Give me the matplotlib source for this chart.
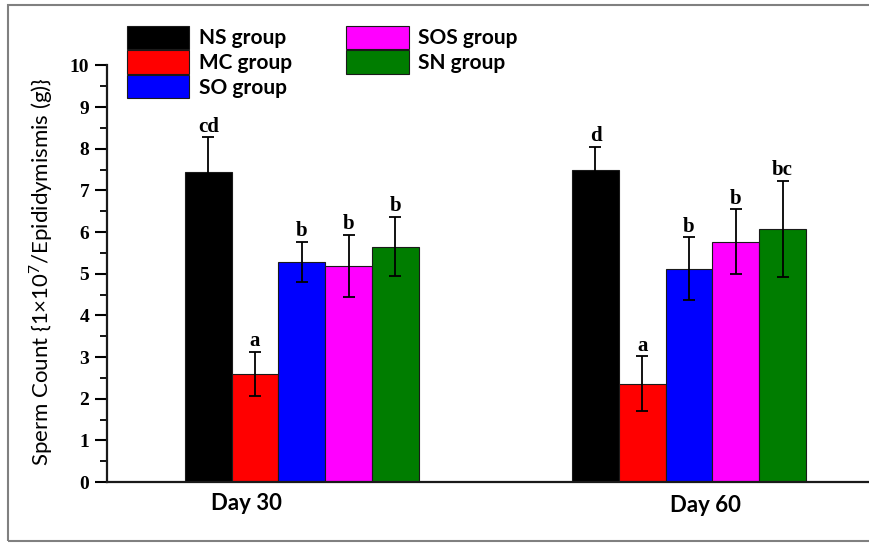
import numpy as np
import matplotlib
matplotlib.use("Agg")
import matplotlib.pyplot as plt
from matplotlib.patches import Rectangle

# ---- data ----
days = ["Day 30", "Day 60"]
groups = ["NS group", "MC group", "SO group", "SOS group", "SN group"]
ns = [7.45, 7.50]
mc = [2.60, 2.36]
so = [5.29, 5.12]
sos = [5.19, 5.77]
sn = [5.65, 6.08]
ns_err = [0.82, 0.55]
mc_err = [0.53, 0.66]
so_err = [0.48, 0.75]
sos_err = [0.75, 0.78]
sn_err = [0.71, 1.15]
ns_sig = ["cd", "d"]
mc_sig = ["a", "a"]
so_sig = ["b", "b"]
sos_sig = ["b", "b"]
sn_sig = ["b", "bc"]

values = [ns, mc, so, sos, sn]
errors = [ns_err, mc_err, so_err, sos_err, sn_err]
letters = [ns_sig, mc_sig, so_sig, sos_sig, sn_sig]
colors = ["#000000", "#ff0000", "#0000ff", "#ff00ff", "#007d00"]

plt.rcParams["mathtext.fontset"] = "custom"
plt.rcParams["mathtext.rm"] = "Lato"

fig = plt.figure(figsize=(8.7, 5.46), dpi=100)
ax = fig.add_axes([0.1233, 0.1172, 0.8767, 0.7630])

group_offset = np.array([0.0, 8.28])
width = 1.0
for i in range(len(groups)):
    x = group_offset + i
    ax.bar(x, values[i], width, color=colors[i], edgecolor="#1a1a1a",
           linewidth=0.8, label=groups[i], zorder=2)
    ax.errorbar(x, values[i], yerr=errors[i], fmt="none", ecolor="black",
                elinewidth=1.3, capsize=4.3, capthick=1.3, zorder=3)
    for j in range(len(days)):
        ax.annotate(letters[i][j], (x[j], values[i][j] + errors[i][j]),
                    xytext=(0, 4), textcoords="offset points",
                    ha="center", va="baseline", fontsize=15,
                    fontweight="bold", family="Liberation Serif")

ax.set_xlim(-2.16, 14.15)
ax.set_ylim(0, 10)
ax.set_yticks(np.arange(0, 11, 1))
ax.set_yticks(np.arange(0.5, 10, 1), minor=True)
ax.set_xticks([])
for lab in ax.get_yticklabels():
    lab.set_family("Liberation Serif")
    lab.set_fontweight("bold")
    lab.set_fontsize(14)
ax.tick_params(axis="y", which="major", direction="out", length=9, width=1.5, pad=4)
ax.tick_params(axis="y", which="minor", direction="out", length=5, width=1.3)

for s in ["top", "right"]:
    ax.spines[s].set_visible(False)
for s in ["left", "bottom"]:
    ax.spines[s].set_linewidth(1.6)
    ax.spines[s].set_color("#1a1a1a")

ax.set_ylabel("Sperm Count {1×10$^{\\mathregular{7}}$/Epididymismis (g)}",
              family="Lato", fontsize=16)
ax.yaxis.set_label_coords(-0.069, 0.505)

# day labels under the groups
day_x = [0.81, 10.63]
day_y = [-0.066, -0.073]
for d, dx, dy in zip(days, day_x, day_y):
    ax.text(dx, dy, d, transform=ax.get_xaxis_transform(), ha="center",
            va="baseline", family="Lato", fontweight="bold", fontsize=16)

leg = fig.legend(loc="upper left", bbox_to_anchor=(0.134, 0.972), ncol=2,
                 frameon=False, borderpad=0, handlelength=3.0, handleheight=1.35,
                 handletextpad=0.45, labelspacing=0.06, columnspacing=2.6,
                 prop={"family": "Lato", "weight": "bold", "size": 15})

# grey frame around the picture
fig.patches.append(Rectangle((8 / 870, 5 / 546), 1.0, 1 - 10 / 546,
                             transform=fig.transFigure, fill=False,
                             edgecolor="#808080", linewidth=1.5))

fig.savefig("out.png", dpi=100)
